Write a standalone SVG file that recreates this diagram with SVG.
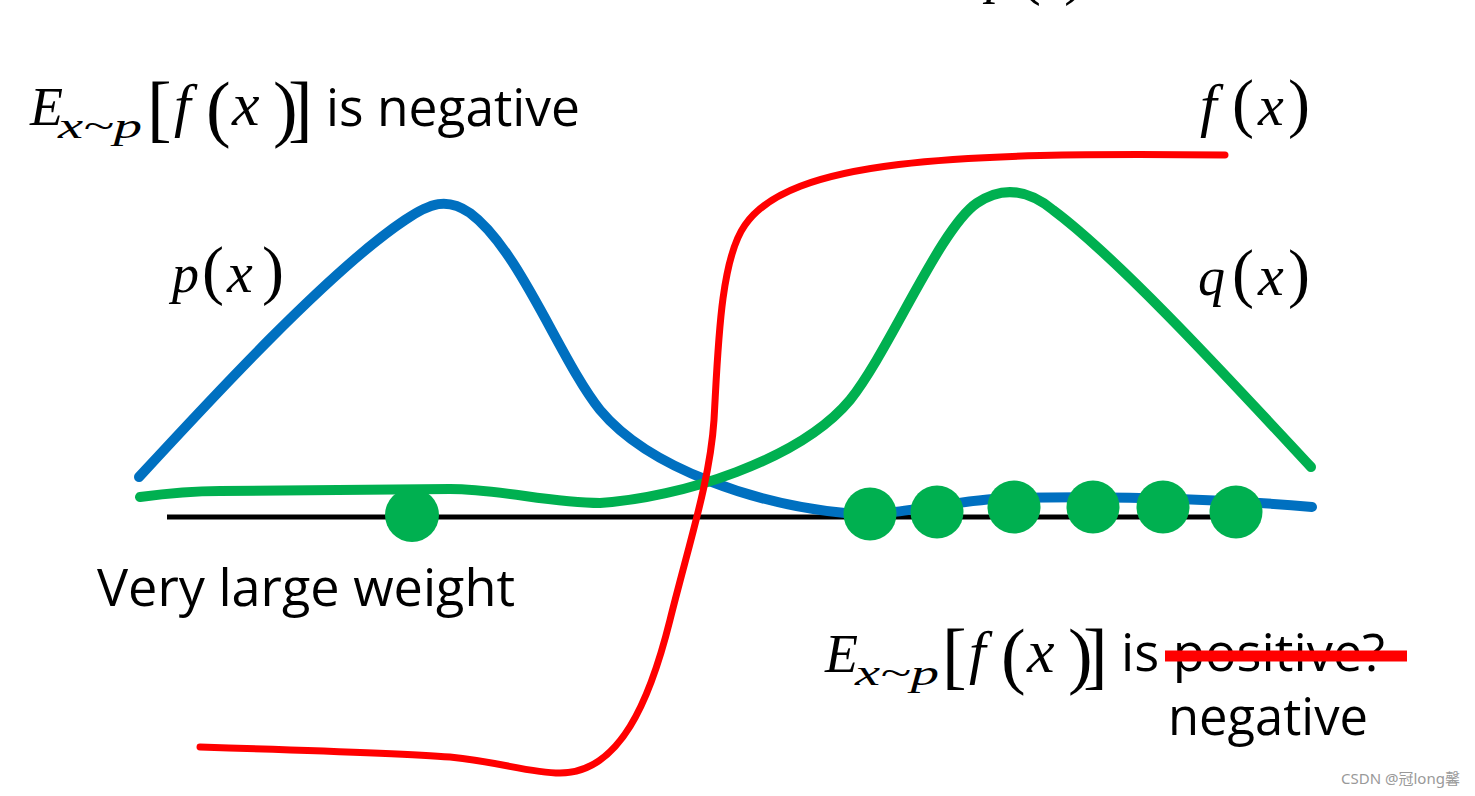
<svg xmlns="http://www.w3.org/2000/svg" width="1475" height="796" viewBox="0 0 1475 796">
<style>
.m{font-family:"Liberation Serif","DejaVu Serif",serif;font-style:italic;fill:#000}
.u{font-style:normal}
.t{font-family:"Open Sans","Noto Sans","Liberation Sans",sans-serif;font-size:51px;fill:#000}
.c{fill:none;stroke-linecap:round;stroke-linejoin:round}
.dot{fill:#00B050}
</style>
<rect width="1475" height="796" fill="#fff"/>
<g id="cut-label">
<text class="m" x="986" y="-8" font-size="54">p<tspan class="u" x="1019" font-size="66">(</tspan><tspan x="1043" font-size="58">x</tspan><tspan class="u" x="1064" font-size="66">)</tspan></text>
</g>
<g id="axis"><line x1="167" y1="517" x2="1236" y2="517" stroke="#000" stroke-width="5"/></g>
<g id="connectors">
<path id="p-curve" class="c" stroke="#0070C0" stroke-width="10" stroke-linecap="butt" d="M139,477 C210,400 330,270 405,220 C430,203 447,197 470,213 C520,250 560,360 600,410 C650,470 760,505 845,513 C900,517 950,500 1010,498 C1100,496 1200,497 1312,507"/>
<path id="q-curve" class="c" stroke="#00B050" stroke-width="10" stroke-linecap="butt" d="M140,497 C170,493 190,491 220,491 L450,489 C500,489 550,503 600,503 C680,498 800,460 850,400 C890,350 940,228 977,203 Q1014,178 1053,210 C1120,260 1230,380 1311,467"/>
</g>
<g id="samples">
<circle class="dot" cx="412" cy="515" r="27"/>
<circle class="dot" cx="870" cy="514" r="26.5"/>
<circle class="dot" cx="937" cy="512" r="26.5"/>
<circle class="dot" cx="1014" cy="507" r="26.5"/>
<circle class="dot" cx="1093" cy="507" r="26.5"/>
<circle class="dot" cx="1163" cy="507" r="26.5"/>
<circle class="dot" cx="1236" cy="512" r="26.5"/>
</g>
<g id="f-curve-group">
<path id="f-curve" class="c" stroke="#FF0000" stroke-width="7" d="M200,747 C300,750 400,753 450,757 C500,762 530,773 560,773 C620,773 650,700 670,620 C690,540 710,480 714,420 C718,350 720,260 745,225 C790,160 950,152 1225,155"/>
</g>
<g id="label-top-left">
<text class="m" x="30" y="125" font-size="54">E</text>
<text class="m" x="58" y="138" font-size="36" textLength="84" lengthAdjust="spacingAndGlyphs">x~p</text>
<text class="m" y="125"><tspan class="u" x="147" y="133" font-size="74">[</tspan><tspan x="174" y="125" font-size="60">f</tspan><tspan class="u" x="206" y="133" font-size="74">(</tspan><tspan x="232" y="125" font-size="62">x</tspan><tspan class="u" x="273" y="133" font-size="74">)</tspan><tspan class="u" x="288" y="133" font-size="74">]</tspan></text>
<text class="t" x="326" y="126" textLength="254" lengthAdjust="spacingAndGlyphs">is negative</text>
</g>
<g id="label-f">
<text class="m" y="125"><tspan x="1200" font-size="60">f</tspan><tspan class="u" x="1232" font-size="66">(</tspan><tspan x="1258" font-size="58">x</tspan><tspan class="u" x="1288" font-size="66">)</tspan></text>
</g>
<g id="label-p">
<text class="m" y="292"><tspan x="172" font-size="54">p</tspan><tspan class="u" x="202" font-size="66">(</tspan><tspan x="227" font-size="58">x</tspan><tspan class="u" x="262" font-size="66">)</tspan></text>
</g>
<g id="label-q">
<text class="m" y="295"><tspan x="1198" font-size="54">q</tspan><tspan class="u" x="1232" font-size="66">(</tspan><tspan x="1258" font-size="58">x</tspan><tspan class="u" x="1288" font-size="66">)</tspan></text>
</g>
<g id="label-weight">
<text class="t" x="97" y="606" textLength="418" lengthAdjust="spacingAndGlyphs">Very large weight</text>
</g>
<g id="label-bottom-right">
<text class="m" x="825" y="672" font-size="54">E</text>
<text class="m" x="855" y="685" font-size="36" textLength="84" lengthAdjust="spacingAndGlyphs">x~p</text>
<text class="m" y="672"><tspan class="u" x="942" y="680" font-size="74">[</tspan><tspan x="969" y="672" font-size="60">f</tspan><tspan class="u" x="1001" y="680" font-size="74">(</tspan><tspan x="1027" y="672" font-size="62">x</tspan><tspan class="u" x="1068" y="680" font-size="74">)</tspan><tspan class="u" x="1083" y="680" font-size="74">]</tspan></text>
<text class="t" x="1121" y="671" textLength="264" lengthAdjust="spacingAndGlyphs">is positive?</text>
<line x1="1165" y1="656" x2="1407" y2="656" stroke="#FF0000" stroke-width="11"/>
<text class="t" x="1168" y="735" textLength="200" lengthAdjust="spacingAndGlyphs">negative</text>
</g>
<g id="watermark">
<text x="1341" y="784" font-family="'Noto Sans','Noto Sans CJK SC',sans-serif" font-size="15" fill="#999">CSDN @冠long馨</text>
</g>
</svg>
